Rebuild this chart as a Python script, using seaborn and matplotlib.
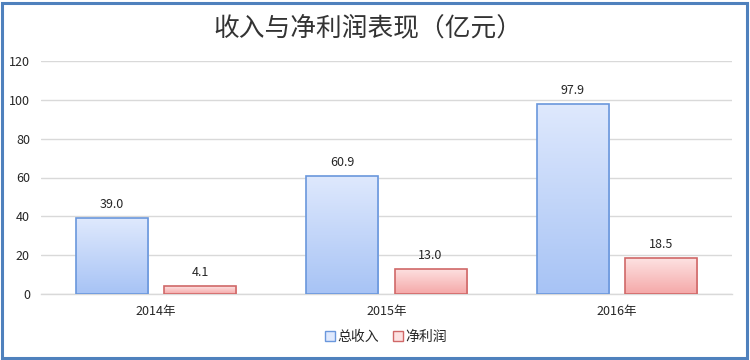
import matplotlib
matplotlib.use("Agg")
import matplotlib.pyplot as plt
import seaborn as sns
import numpy as np
import pandas as pd
from matplotlib.patches import Rectangle, Patch
from matplotlib.colors import LinearSegmentedColormap

years = ["2014年", "2015年", "2016年"]
series_names = ["总收入", "净利润"]
revenue = [39.0, 60.9, 97.9]
net_profit = [4.1, 13.0, 18.5]
title = "收入与净利润表现（亿元）"
y_ticks = [0, 20, 40, 60, 80, 100, 120]

df = pd.DataFrame({
    "year": years * 2,
    "series": [series_names[0]] * 3 + [series_names[1]] * 3,
    "value": revenue + net_profit,
})

sns.set_theme(style="white")
plt.rcParams["font.family"] = ["Noto Sans CJK SC", "DejaVu Sans"]

fig = plt.figure(figsize=(7.5, 3.6), dpi=100)
ax = fig.add_axes([41 / 750, 66 / 360, (732 - 41) / 750, (294 - 61) / 360])

edge_cols = {"总收入": "#6a97dc", "净利润": "#d06868"}
grad = {
    "总收入": ("#dfe9fd", "#a7c3f5"),
    "净利润": ("#fde2e2", "#f5a8a8"),
}
sns.barplot(data=df, x="year", y="value", hue="series", hue_order=series_names,
            palette={"总收入": "#c4d7fa", "净利润": "#f9c4c4"},
            width=0.765, gap=0.182, ax=ax, legend=False, zorder=3)

ax.set_ylim(0, 120)
ax.set_xlim(-0.5, 2.5)

for cont, name in zip(ax.containers, series_names):
    cmap = LinearSegmentedColormap.from_list(name, [grad[name][1], grad[name][0]])
    for bar in cont:
        x0 = bar.get_x()
        w = bar.get_width()
        h = bar.get_height()
        img = np.linspace(0, 1, 256).reshape(-1, 1)
        im = ax.imshow(img, cmap=cmap, aspect="auto", origin="lower",
                       extent=[x0, x0 + w, 0, h], zorder=3, interpolation="bilinear")
        im.set_clip_path(bar)
        bar.set_facecolor("none")
        bar.set_edgecolor(edge_cols[name])
        bar.set_linewidth(1.2)
        bar.set_zorder(4)
    ax.bar_label(cont, fmt="%.1f", padding=5, fontsize=9, color="#262626", zorder=5)

ax.set_xlim(-0.5, 2.5)
ax.set_ylim(0, 120)
ax.set_yticks(y_ticks)
ax.set_yticklabels([str(t) for t in y_ticks])
ax.yaxis.grid(True, color="#d9d9d9", linewidth=1)
ax.set_axisbelow(True)
for s in ["top", "right", "left"]:
    ax.spines[s].set_visible(False)
ax.spines["bottom"].set_color("#d9d9d9")
ax.spines["bottom"].set_linewidth(1)
ax.tick_params(axis="both", length=0, labelsize=9, labelcolor="#262626")
ax.tick_params(axis="x", pad=8)
ax.tick_params(axis="y", pad=8)
ax.set_xlabel("")
ax.set_ylabel("")

fig.text(368 / 750, 1 - 28 / 360, title, ha="center", va="center",
         fontsize=18.5, color="#333333", fontweight="light")

handles = [Patch(facecolor=grad[n][0], edgecolor=edge_cols[n], linewidth=1, label=n)
           for n in series_names]
fig.legend(handles=handles, loc="center", bbox_to_anchor=(386 / 750, 1 - 337 / 360),
           ncol=2, frameon=False, fontsize=10, handlelength=0.7, handleheight=0.7,
           handletextpad=0.2, columnspacing=1.0, labelcolor="#262626")

fig.patches.append(Rectangle((2 / 750, 2 / 360), 745 / 750, 355 / 360,
                             transform=fig.transFigure, fill=False,
                             edgecolor="#4f81bd", linewidth=2.2))

fig.savefig("out.png", dpi=100)
